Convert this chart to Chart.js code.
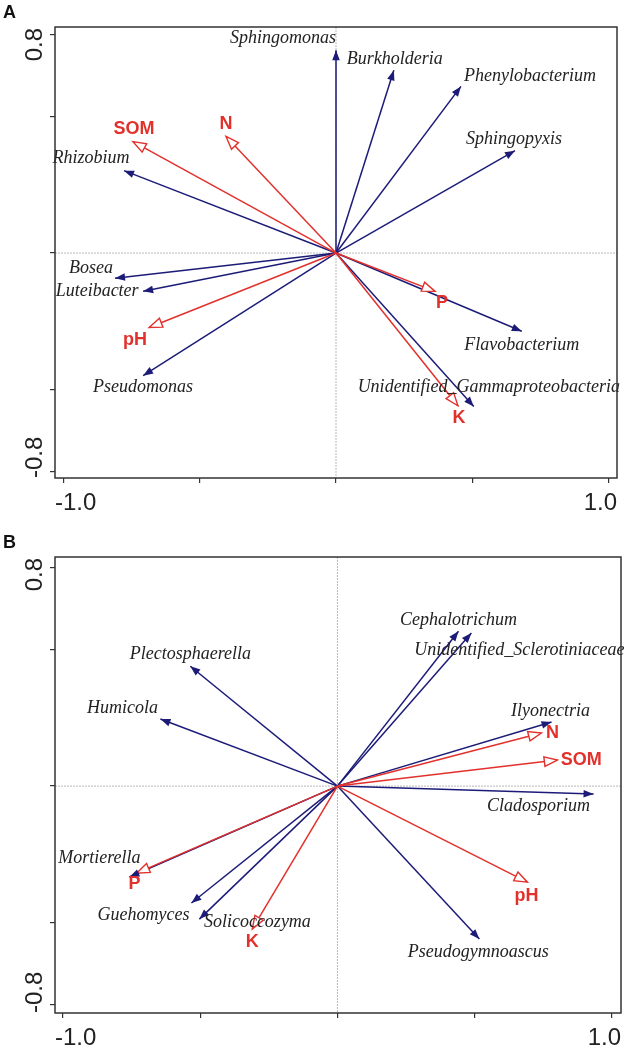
<!DOCTYPE html>
<html>
<head>
<meta charset="utf-8">
<script src="https://cdn.jsdelivr.net/npm/chart.js@4.4.1/dist/chart.umd.min.js"></script>
<style>
  html, body { margin: 0; padding: 0; background: #fff; }
  .panel { position: absolute; left: 0; width: 634px; }
  #wrapA { top: 0; height: 518px; }
  #wrapB { top: 518px; height: 533px; }
</style>
</head>
<body>
<div class="panel" id="wrapA"><canvas id="chartA"></canvas></div>
<div class="panel" id="wrapB"><canvas id="chartB"></canvas></div>
<script>
// Panel A - bacterial genera + soil properties
var taxaA = ['Sphingomonas', 'Burkholderia', 'Phenylobacterium', 'Sphingopyxis', 'Rhizobium',
             'Bosea', 'Luteibacter', 'Pseudomonas', 'Flavobacterium', 'Unidentified_Gammaproteobacteria'];
var taxaAx = [0.0, 0.212, 0.458, 0.656, -0.777, -0.81, -0.707, -0.707, 0.681, 0.505];
var taxaAy = [0.741, 0.668, 0.609, 0.374, 0.301, -0.092, -0.14, -0.448, -0.286, -0.561];
var envA = ['SOM', 'N', 'pH', 'P', 'K'];
var envAx = [-0.744, -0.403, -0.685, 0.363, 0.447];
var envAy = [0.407, 0.426, -0.272, -0.14, -0.558];

// Panel B - fungal genera + soil properties
var taxaB = ['Plectosphaerella', 'Humicola', 'Cephalotrichum', 'Unidentified_Sclerotiniaceae', 'Ilyonectria',
             'Cladosporium', 'Pseudogymnoascus', 'Mortierella', 'Guehomyces', 'Solicoccozyma'];
var taxaBx = [-0.536, -0.645, 0.441, 0.488, 0.78, 0.933, 0.517, -0.758, -0.532, -0.503];
var taxaBy = [0.438, 0.245, 0.566, 0.559, 0.234, -0.029, -0.559, -0.332, -0.427, -0.486];
var envB = ['N', 'SOM', 'pH', 'P', 'K'];
var envBx = [0.743, 0.801, 0.692, -0.732, -0.31];
var envBy = [0.194, 0.095, -0.351, -0.318, -0.522];

// axes
var xTicks = [-1.0, -0.5, 0, 0.5, 1.0];
var xTickLabels = ['-1.0', '', '', '', '1.0'];
var yTicks = [-0.8, -0.5, 0, 0.5, 0.8];
var yTickLabels = ['-0.8', '', '', '', '0.8'];

var BLUE = '#1c1c78';
var RED = '#e2312c';

// label placement, pixel offset of the text centre from the arrow tip
var placeA = {
    'Sphingomonas': [-53, -12], 'Burkholderia': [1, -11], 'Phenylobacterium': [69, -10],
    'Sphingopyxis': [-1, -11], 'Rhizobium': [-33, -12], 'Bosea': [-24, -10],
    'Luteibacter': [-46, 0], 'Pseudomonas': [0, 12], 'Flavobacterium': [0, 14],
    'Unidentified_Gammaproteobacteria': [15, -19],
    'SOM': [1, -13], 'N': [0, -12], 'pH': [-14, 13], 'P': [7, 12], 'K': [1, 12]
};
var placeB = {
    'Plectosphaerella': [0, -12], 'Humicola': [-38, -11], 'Cephalotrichum': [0, -11],
    'Unidentified_Sclerotiniaceae': [48, 17], 'Ilyonectria': [-1, -11], 'Cladosporium': [-55, 12],
    'Pseudogymnoascus': [-1, 13], 'Mortierella': [-30, -19], 'Guehomyces': [-48, 12],
    'Solicoccozyma': [58, 3],
    'N': [11, 0], 'SOM': [24, 0], 'pH': [-1, 14], 'P': [-2, 11], 'K': [0, 13]
};

function arrowSets(names, xs, ys, kind) {
    return names.map(function(n, i) {
        return {
            label: n,
            kind: kind,
            data: [{x: 0, y: 0}, {x: xs[i], y: ys[i]}],
            showLine: true,
            borderColor: kind === 'env' ? RED : BLUE,
            borderWidth: 1.5,
            pointRadius: 0,
            pointHoverRadius: 0
        };
    });
}

var biplotPlugin = {
    id: 'biplot',
    beforeDatasetsDraw: function(chart) {
        var ctx = chart.ctx, a = chart.chartArea;
        var x0 = chart.scales.x.getPixelForValue(0);
        var y0 = chart.scales.y.getPixelForValue(0);
        ctx.save();
        ctx.strokeStyle = '#b8b8b8';
        ctx.lineWidth = 1;
        ctx.setLineDash([2, 1]);
        ctx.beginPath();
        ctx.moveTo(a.left, y0); ctx.lineTo(a.right, y0);
        ctx.moveTo(x0, a.top); ctx.lineTo(x0, a.bottom);
        ctx.stroke();
        ctx.restore();
    },
    afterDatasetsDraw: function(chart, args, opts) {
        var ctx = chart.ctx, a = chart.chartArea;
        ctx.save();

        // arrow heads
        chart.data.datasets.forEach(function(ds, i) {
            var pts = chart.getDatasetMeta(i).data;
            var p0 = pts[0], p1 = pts[1];
            var ang = Math.atan2(p1.y - p0.y, p1.x - p0.x);
            var len = ds.kind === 'env' ? 13 : 10;
            var hw = ds.kind === 'env' ? 4.8 : 3.8;
            var bx = p1.x - len * Math.cos(ang), by = p1.y - len * Math.sin(ang);
            var nx = -Math.sin(ang) * hw, ny = Math.cos(ang) * hw;
            ctx.beginPath();
            ctx.moveTo(p1.x, p1.y);
            ctx.lineTo(bx + nx, by + ny);
            ctx.lineTo(bx - nx, by - ny);
            ctx.closePath();
            if (ds.kind === 'env') {
                ctx.fillStyle = '#fff';
                ctx.fill();
                ctx.strokeStyle = RED;
                ctx.lineWidth = 1.4;
                ctx.stroke();
            } else {
                ctx.fillStyle = BLUE;
                ctx.fill();
            }
        });

        // labels
        ctx.textAlign = 'center';
        ctx.textBaseline = 'middle';
        chart.data.datasets.forEach(function(ds, i) {
            var p1 = chart.getDatasetMeta(i).data[1];
            var off = opts.place[ds.label] || [0, 0];
            if (ds.kind === 'env') {
                ctx.font = 'bold 18px "Liberation Sans", Arial, sans-serif';
                ctx.fillStyle = RED;
            } else {
                ctx.font = 'italic 18px "Liberation Serif", "Times New Roman", serif';
                ctx.fillStyle = '#222';
            }
            ctx.fillText(ds.label, p1.x + off[0], p1.y + off[1]);
        });

        // frame
        ctx.strokeStyle = '#333';
        ctx.lineWidth = 1.5;
        ctx.strokeRect(a.left, a.top, a.right - a.left, a.bottom - a.top);

        // tick labels, kept inside the frame extent
        ctx.font = '24px "Liberation Sans", Arial, sans-serif';
        ctx.fillStyle = '#222';
        ctx.textBaseline = 'alphabetic';
        ctx.textAlign = 'center';
        xTicks.forEach(function(v, i) {
            var t = xTickLabels[i];
            if (!t) return;
            var w = ctx.measureText(t).width;
            var px = chart.scales.x.getPixelForValue(v);
            px = Math.min(Math.max(px, a.left + w / 2), a.right - w / 2);
            ctx.fillText(t, px, a.bottom + 32);
        });
        yTicks.forEach(function(v, i) {
            var t = yTickLabels[i];
            if (!t) return;
            var w = ctx.measureText(t).width;
            var py = chart.scales.y.getPixelForValue(v);
            py = Math.min(Math.max(py, a.top + w / 2 + 1), a.bottom - w / 2);
            ctx.save();
            ctx.translate(a.left - 13, py);
            ctx.rotate(-Math.PI / 2);
            ctx.fillText(t, 0, 0);
            ctx.restore();
        });

        // panel letter
        ctx.font = 'bold 18px "Liberation Sans", Arial, sans-serif';
        ctx.fillStyle = '#111';
        ctx.textAlign = 'left';
        ctx.fillText(opts.letter, 3, opts.letterY);
        ctx.restore();
    }
};

function makeChart(id, datasets, cfg) {
    return new Chart(document.getElementById(id), {
        type: 'scatter',
        data: { datasets: datasets },
        options: {
            responsive: true,
            maintainAspectRatio: false,
            animation: false,
            events: [],
            layout: { padding: { left: 0, top: cfg.top, right: cfg.right, bottom: 0 } },
            plugins: {
                legend: { display: false },
                tooltip: { enabled: false },
                biplot: { letter: cfg.letter, letterY: cfg.letterY, place: cfg.place }
            },
            scales: {
                x: {
                    min: cfg.xmin, max: cfg.xmax,
                    afterBuildTicks: function(s) { s.ticks = xTicks.map(function(v) { return {value: v}; }); },
                    afterFit: function(s) { s.height = cfg.bottom; },
                    ticks: { display: false },
                    border: { display: false },
                    grid: { drawOnChartArea: false, drawTicks: true, tickLength: 5, color: '#333', lineWidth: 1.2 }
                },
                y: {
                    min: cfg.ymin, max: cfg.ymax,
                    afterBuildTicks: function(s) { s.ticks = yTicks.map(function(v) { return {value: v}; }); },
                    afterFit: function(s) { s.width = 55; },
                    ticks: { display: false },
                    border: { display: false },
                    grid: { drawOnChartArea: false, drawTicks: true, tickLength: 5, color: '#333', lineWidth: 1.2 }
                }
            }
        },
        plugins: [biplotPlugin]
    });
}

makeChart('chartA',
    arrowSets(envA, envAx, envAy, 'env').concat(arrowSets(taxaA, taxaAx, taxaAy, 'taxon')),
    { letter: 'A', letterY: 18, place: placeA, top: 27, right: 17, bottom: 40,
      xmin: -1.03, xmax: 1.03, ymin: -0.822, ymax: 0.826 });

makeChart('chartB',
    arrowSets(envB, envBx, envBy, 'env').concat(arrowSets(taxaB, taxaBx, taxaBy, 'taxon')),
    { letter: 'B', letterY: 30, place: placeB, top: 39, right: 13, bottom: 38,
      xmin: -1.029, xmax: 1.033, ymin: -0.829, ymax: 0.837 });
</script>
</body>
</html>
